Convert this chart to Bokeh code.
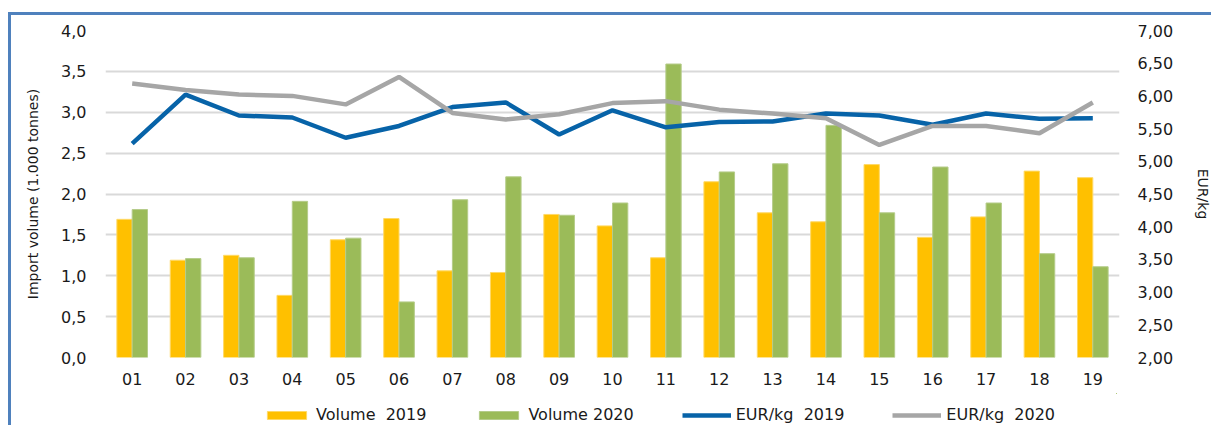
from bokeh.plotting import figure
from bokeh.layouts import column
from bokeh.models import Range1d, LinearAxis, FixedTicker, Legend, LegendItem
from bokeh.embed import file_html
from bokeh.resources import INLINE

weeks = ["01", "02", "03", "04", "05", "06", "07", "08", "09", "10",
         "11", "12", "13", "14", "15", "16", "17", "18", "19"]
volume_2019 = [1.69, 1.19, 1.25, 0.76, 1.44, 1.70, 1.06, 1.04, 1.75, 1.61,
               1.22, 2.15, 1.77, 1.66, 2.36, 1.47, 1.72, 2.28, 2.20]
volume_2020 = [1.81, 1.21, 1.22, 1.91, 1.46, 0.68, 1.93, 2.21, 1.74, 1.89,
               3.59, 2.27, 2.37, 2.84, 1.77, 2.33, 1.89, 1.27, 1.11]
eur_kg_2019 = [5.27, 6.02, 5.70, 5.67, 5.36, 5.54, 5.83, 5.90, 5.41, 5.78,
               5.52, 5.60, 5.61, 5.73, 5.70, 5.56, 5.73, 5.65, 5.66]
eur_kg_2020 = [6.19, 6.09, 6.02, 6.00, 5.87, 6.29, 5.74, 5.64, 5.72, 5.89,
               5.92, 5.79, 5.73, 5.66, 5.25, 5.54, 5.54, 5.43, 5.90]
left_ticks = [0.0, 0.5, 1.0, 1.5, 2.0, 2.5, 3.0, 3.5, 4.0]
left_tick_labels = ["0,0", "0,5", "1,0", "1,5", "2,0", "2,5", "3,0", "3,5", "4,0"]
right_ticks = [2.0, 2.5, 3.0, 3.5, 4.0, 4.5, 5.0, 5.5, 6.0, 6.5, 7.0]
right_tick_labels = ["2,00", "2,50", "3,00", "3,50", "4,00", "4,50",
                     "5,00", "5,50", "6,00", "6,50", "7,00"]
series_labels = ["Volume  2019", "Volume 2020", "EUR/kg  2019", "EUR/kg  2020"]

FONT = "DejaVu Sans"
YELLOW = "#FFC000"
GREEN = "#9BBB59"
BLUE = "#0763A8"
GREY = "#A6A6A6"

xs = list(range(1, len(weeks) + 1))
bw = 0.287
x19 = [x - bw / 2 for x in xs]
x20 = [x + bw / 2 for x in xs]

fig = figure(frame_width=1014, frame_height=327, output_backend="svg",
             toolbar_location=None,
             x_range=Range1d(0.5, len(weeks) + 0.5), y_range=Range1d(0, 4),
             min_border_left=94, min_border_right=92, min_border_top=15,
             min_border_bottom=36)
fig.extra_y_ranges = {"price": Range1d(2, 7)}
fig.outline_line_color = None
fig.background_fill_color = "white"
fig.border_fill_color = "white"

bar_style19 = dict(fill_color=YELLOW, line_color="#FFD966", line_width=1)
bar_style20 = dict(fill_color=GREEN, line_color="#B5CC8A", line_width=1)
line_style19 = dict(line_color=BLUE, line_width=4.5)
line_style20 = dict(line_color=GREY, line_width=4.5)

fig.vbar(x=x19, top=volume_2019, width=bw, **bar_style19)
fig.vbar(x=x20, top=volume_2020, width=bw, **bar_style20)
fig.line(xs, eur_kg_2019, y_range_name="price", **line_style19)
fig.line(xs, eur_kg_2020, y_range_name="price", **line_style20)

fig.xgrid.grid_line_color = None
fig.ygrid.grid_line_color = "#D9D9D9"
fig.ygrid.grid_line_width = 2
fig.ygrid.ticker = FixedTicker(ticks=left_ticks)

xa = fig.xaxis[0]
xa.ticker = FixedTicker(ticks=xs)
xa.major_label_overrides = {x: w for x, w in zip(xs, weeks)}
ya = fig.yaxis[0]
ya.ticker = FixedTicker(ticks=left_ticks)
ya.major_label_overrides = {t: l for t, l in zip(left_ticks, left_tick_labels)}
ya.axis_label = "Import volume (1.000 tonnes)"

ra = LinearAxis(y_range_name="price", ticker=FixedTicker(ticks=right_ticks))
ra.major_label_overrides = {t: l for t, l in zip(right_ticks, right_tick_labels)}
ra.axis_label = "EUR/kg"
fig.add_layout(ra, "right")

for ax in [xa, ya, ra]:
    ax.axis_line_color = None
    ax.major_tick_line_color = None
    ax.minor_tick_line_color = None
    ax.major_tick_out = 0
    ax.major_tick_in = 0
    ax.minor_tick_out = 0
    ax.minor_tick_in = 0
    ax.major_label_text_font = FONT
    ax.major_label_text_font_size = "16px"
    ax.major_label_text_color = "#1A1A1A"
    ax.axis_label_text_font = FONT
    ax.axis_label_text_font_size = "14px"
    ax.axis_label_text_font_style = "normal"
    ax.axis_label_text_color = "#1A1A1A"
xa.major_label_standoff = 15
ya.major_label_standoff = 19
ra.major_label_standoff = 18
ya.axis_label_standoff = 17
ra.axis_label_standoff = 19

# legend strip below the chart: same series drawn out of its view, legend only
key = figure(width=1200, height=32, output_backend="svg", toolbar_location=None,
             x_range=Range1d(-2, -1), y_range=Range1d(-2, -1),
             x_axis_location=None, y_axis_location=None, min_border=0)
key.grid.visible = False
key.outline_line_color = None
key.background_fill_color = "white"
key.border_fill_color = "white"
k19 = key.vbar(x=x19, top=volume_2019, width=bw, **bar_style19)
k20 = key.vbar(x=x20, top=volume_2020, width=bw, **bar_style20)
kl19 = key.line(xs, eur_kg_2019, **line_style19)
kl20 = key.line(xs, eur_kg_2020, **line_style20)

legend = Legend(items=[LegendItem(label=series_labels[0], renderers=[k19]),
                       LegendItem(label=series_labels[1], renderers=[k20]),
                       LegendItem(label=series_labels[2], renderers=[kl19]),
                       LegendItem(label=series_labels[3], renderers=[kl20])],
                orientation="horizontal", location=(157, 1),
                glyph_width=49, glyph_height=10, label_height=10,
                label_standoff=5, spacing=48,
                padding=0, margin=0, border_line_color=None,
                background_fill_alpha=0, label_text_font=FONT,
                label_text_font_size="16px", label_text_color="#1A1A1A")
key.add_layout(legend)

p = column(fig, key, spacing=0)
p.styles = {"border-top": "3px solid #4F81BD", "border-left": "3px solid #4F81BD",
            "margin-top": "12px", "margin-left": "8px"}

open("out.html", "w").write(file_html(p, INLINE))
